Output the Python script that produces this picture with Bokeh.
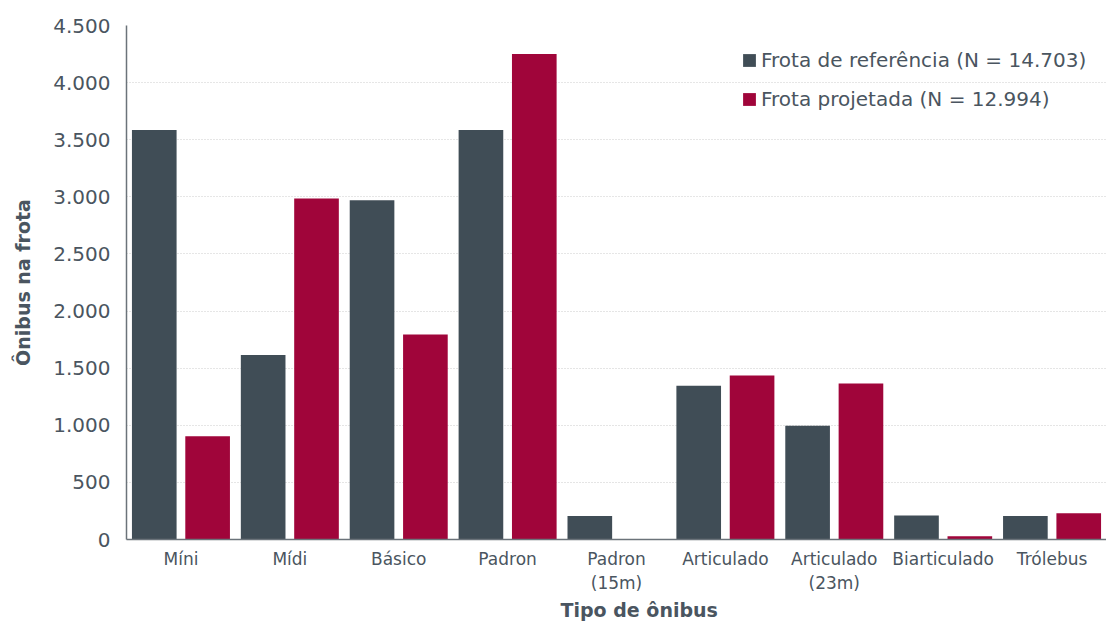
from bokeh.plotting import figure
from bokeh.models import FixedTicker, Legend, LegendItem, ColumnDataSource, Title
from bokeh.embed import file_html
from bokeh.resources import INLINE

categories = ["Míni", "Mídi", "Básico", "Padron", "Padron\n(15m)", "Articulado",
              "Articulado\n(23m)", "Biarticulado", "Trólebus"]
frota_referencia = [3585, 1615, 2970, 3585, 205, 1345, 995, 210, 205]
frota_projetada = [905, 2985, 1795, 4250, 0, 1435, 1365, 28, 230]
series_names = ["Frota de referência (N = 14.703)", "Frota projetada (N = 12.994)"]
y_ticks = [0, 500, 1000, 1500, 2000, 2500, 3000, 3500, 4000, 4500]
y_tick_labels = ["0", "500", "1.000", "1.500", "2.000", "2.500", "3.000", "3.500", "4.000", "4.500"]
x_title = "Tipo de ônibus"
y_title = "Ônibus na frota"

C_REF = "#404d56"
C_PROJ = "#a0053a"
TXT = "#4a5560"
FONT = "DejaVu Sans"

centers = [i + 0.5 for i in range(len(categories))]
src = ColumnDataSource(dict(
    xr=[c - 0.245 for c in centers], xp=[c + 0.245 for c in centers],
    ref=frota_referencia, proj=frota_projetada))

p = figure(width=1106, height=624, x_range=(0, len(categories)),
           y_range=(0, 4500), output_backend="svg", toolbar_location=None,
           min_border_left=126, min_border_right=0, min_border_top=25, min_border_bottom=85)
p.outline_line_color = None
p.background_fill_color = "white"
p.border_fill_color = "white"

r1 = p.vbar(x="xr", top="ref", width=0.41, source=src, fill_color=C_REF, line_color=None)
r2 = p.vbar(x="xp", top="proj", width=0.41, source=src, fill_color=C_PROJ, line_color=None)

# y axis
yax = p.yaxis[0]
yax.ticker = FixedTicker(ticks=y_ticks)
yax.major_label_overrides = {t: l for t, l in zip(y_ticks, y_tick_labels)}
yax.major_label_text_font = FONT
yax.major_label_text_font_size = "20px"
yax.major_label_text_color = TXT
yax.major_label_standoff = 10
yax.major_tick_line_color = None
yax.minor_tick_line_color = None
yax.axis_line_color = "#6b737a"
yax.axis_line_width = 1.5
yax.axis_label = y_title
yax.axis_label_text_font = FONT
yax.axis_label_text_font_size = "19px"
yax.axis_label_text_font_style = "bold"
yax.axis_label_text_color = TXT
yax.axis_label_standoff = 16

# x axis
xax = p.xaxis[0]
xax.ticker = FixedTicker(ticks=centers)
xax.major_label_overrides = {c: l for c, l in zip(centers, categories)}
xax.major_label_text_font = FONT
xax.major_label_text_font_size = "17px"
xax.major_label_text_color = TXT
xax.major_label_text_line_height = 1.2
xax.major_label_standoff = 3
xax.major_tick_line_color = None
xax.minor_tick_line_color = None
xax.axis_line_color = "#6b737a"
xax.axis_line_width = 1.5

p.add_layout(Title(text=x_title, align="left", offset=434, standoff=3,
                   text_font=FONT, text_font_size="19px", text_font_style="bold",
                   text_color=TXT), "below")

p.xgrid.grid_line_color = None
p.ygrid.ticker = FixedTicker(ticks=y_ticks[1:])
p.ygrid.grid_line_color = "#cccccc"
p.ygrid.grid_line_dash = "1 2"
p.ygrid.grid_line_width = 1.2

legend = Legend(items=[LegendItem(label=series_names[0], renderers=[r1]),
                       LegendItem(label=series_names[1], renderers=[r2])],
                location=(615, 428), padding=0, margin=0, spacing=15,
                glyph_width=16, glyph_height=16, label_standoff=4,
                label_text_font=FONT, label_text_font_size="20px", label_text_color=TXT,
                label_height=22, background_fill_alpha=0, border_line_color=None)
p.add_layout(legend)

open("out.html", "w").write(file_html(p, INLINE))
